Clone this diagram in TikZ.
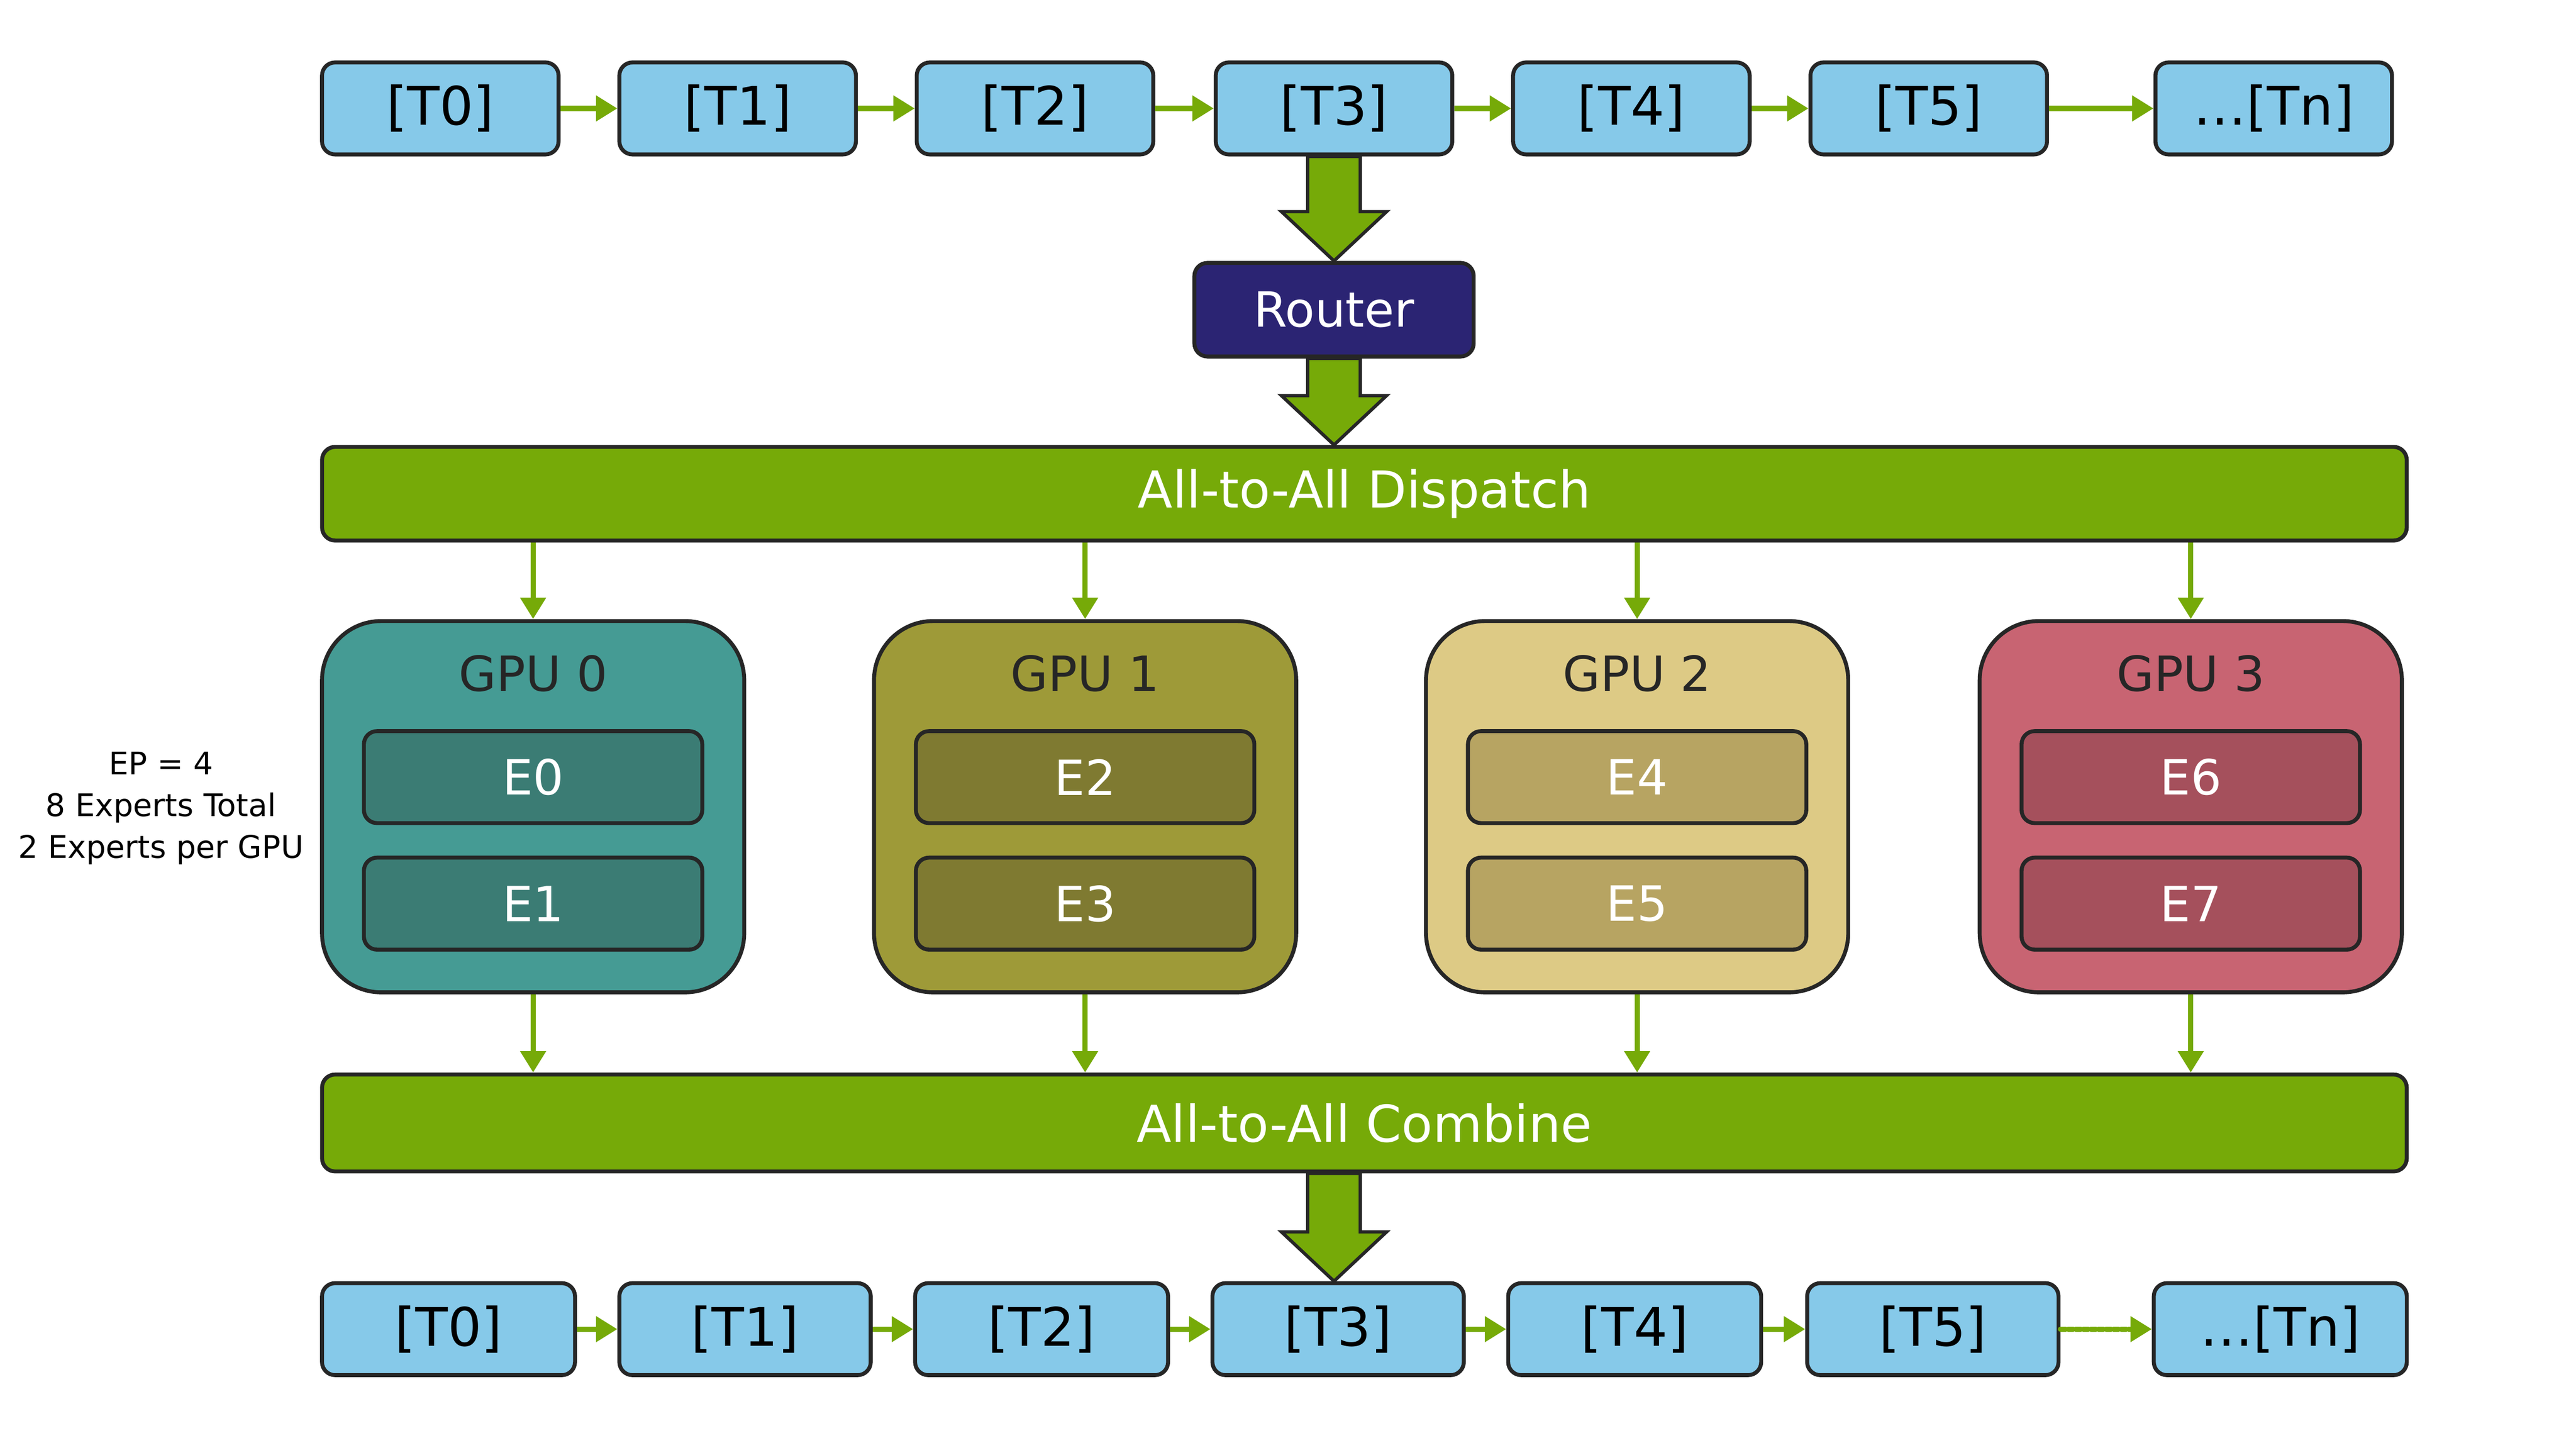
\documentclass[tikz,border=0pt]{standalone}
\usepackage{fontspec}
\setmainfont{DejaVu Sans}
\usetikzlibrary{arrows.meta,calc}
\definecolor{tokc}{HTML}{86C9E9}
\definecolor{grn}{HTML}{76AA08}
\definecolor{navy}{HTML}{2B2473}
\definecolor{ga}{HTML}{459B94}\definecolor{ea}{HTML}{3B7C74}
\definecolor{gb}{HTML}{9E9A38}\definecolor{eb}{HTML}{7F7A31}
\definecolor{gc}{HTML}{DDCA85}\definecolor{ec}{HTML}{B7A462}
\definecolor{gd}{HTML}{C86472}\definecolor{ed}{HTML}{A5505C}
\tikzset{
 tok/.style={draw=black!85,line width=0.12cm,fill=tokc,rounded corners=0.4cm,minimum height=2.8cm,inner sep=0,font=\fontsize{46}{50}\selectfont},
 bar/.style={draw=black!85,line width=0.12cm,fill=grn,rounded corners=0.4cm,minimum width=63.45cm,inner sep=0,text=white,font=\fontsize{44}{48}\selectfont},
 gpu/.style={draw=black!85,line width=0.12cm,rounded corners=1.8cm,minimum width=12.85cm,minimum height=11.3cm,inner sep=0},
 exp/.style={draw=black!85,line width=0.12cm,rounded corners=0.4cm,minimum width=10.3cm,minimum height=2.8cm,inner sep=0,text=white,font=\fontsize{42}{46}\selectfont},
 gtitle/.style={font=\fontsize{42}{46}\selectfont,text=black!85},
 sarr/.style={grn,line width=0.16cm,-{Triangle[length=0.65cm,width=0.75cm]}},
 bigarr/.style={fill=grn,draw=black!85,line width=0.1cm,line join=miter}
}
\newcommand{\bigarrow}[3]{%
 \draw[bigarr] let \p1=(#1), \p2=(#2), \p3=(#3) in
 (\x1-0.8cm,\y2) -- (\x1+0.8cm,\y2) -- (\x1+0.8cm,\y3+1.5cm) -- (\x1+1.6cm,\y3+1.5cm) -- (\x1,\y3) -- (\x1-1.6cm,\y3+1.5cm) -- (\x1-0.8cm,\y3+1.5cm) -- cycle;}
\begin{document}
\begin{tikzpicture}[x=0.05cm,y=-0.05cm]
\useasboundingbox[fill=white] (0,0) rectangle (1568,875);
% top tokens
\foreach \n/\a/\b [count=\i from 0] in {T0/196/340,T1/377/521,T2/558/702,T3/740/884,T4/921/1065,T5/1102/1246}
  \node[tok,minimum width=(\b-\a)*0.05cm] (a\i) at ({(\a+\b)/2},66) {[\n]};
\node[tok,minimum width=7.2cm] (a6) at (1384,66) {\ldots[Tn]};
\foreach \i [evaluate=\i as \j using int(\i+1)] in {0,1,2,3,4,5}
  \draw[sarr] (a\i.east) -- (a\j.west);
\node[draw=black!85,line width=0.12cm,fill=navy,rounded corners=0.4cm,minimum width=8.5cm,minimum height=2.85cm,inner sep=0,text=white,font=\fontsize{42}{46}\selectfont] (router) at (812,188.5) {Router};
\node[bar,minimum height=2.85cm] (disp) at (830.5,300.5) {All-to-All Dispatch};
\bigarrow{a3.south}{a3.south}{router.north}
\bigarrow{router.south}{router.south}{disp.north}
% GPUs
\foreach \k/\x/\gc/\ec/\ea/\eb in {0/324.5/ga/ea/E0/E1,1/660.5/gb/eb/E2/E3,2/996.5/gc/ec/E4/E5,3/1333.5/gd/ed/E6/E7}{
  \node[gpu,fill=\gc] (g\k) at (\x,491) {};
  \node[gtitle] (gt\k) at (\x,410) {GPU \k};
  \node[exp,fill=\ec] (ex\k a) at (\x,473) {\ea};
  \node[exp,fill=\ec] (ex\k b) at (\x,550) {\eb};
}
\node[bar,minimum height=2.95cm] (comb) at (830.5,683.5) {All-to-All Combine};
\foreach \k in {0,1,2,3}{
  \draw[sarr] (g\k.north |- disp.south) -- (g\k.north);
  \draw[sarr] (g\k.south) -- (g\k.south |- comb.north);
}
% bottom tokens
\foreach \n/\a/\b [count=\i from 0] in {T0/196/350,T1/377/530,T2/557/711,T3/738/891,T4/918/1072,T5/1100/1253}
  \node[tok,minimum width=(\b-\a)*0.05cm] (b\i) at ({(\a+\b)/2},809) {[\n]};
\node[tok,minimum width=7.7cm] (b6) at (1388,809) {\ldots[Tn]};
\bigarrow{a3.south}{comb.south}{b3.north}
\foreach \i [evaluate=\i as \j using int(\i+1)] in {0,1,2,3,4}
  \draw[sarr] (b\i.east) -- (b\j.west);
\draw[sarr,dotted,line cap=round] (b5.east) -- (b6.west);
\node[align=center,font=\fontsize{27}{36}\selectfont] (ep) at (98,492) {EP = 4\\8 Experts Total\\2 Experts per GPU};
\end{tikzpicture}
\end{document}
